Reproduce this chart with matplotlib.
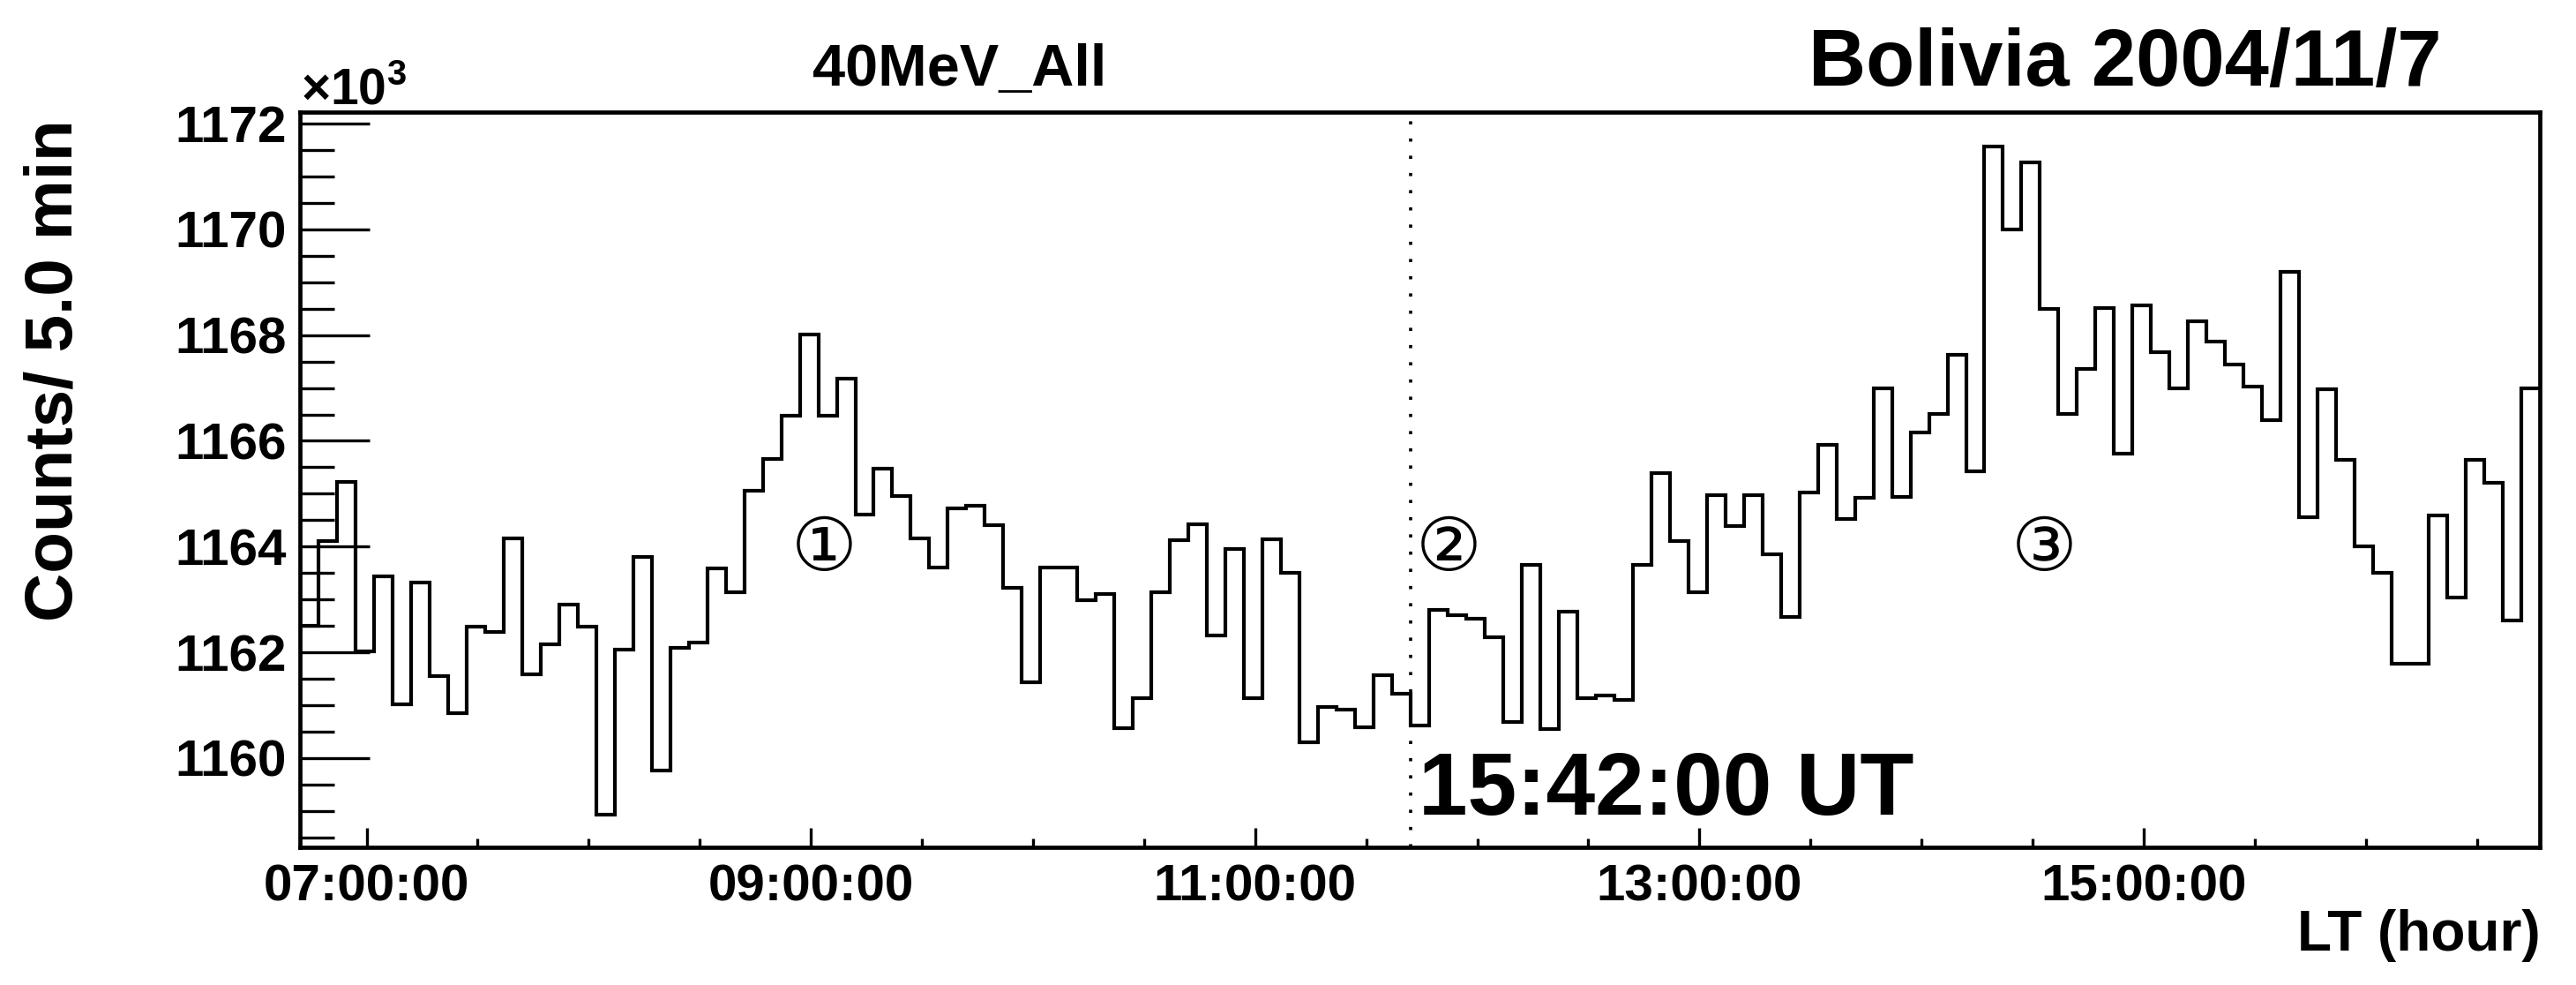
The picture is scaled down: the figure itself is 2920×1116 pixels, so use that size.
import numpy as np
import matplotlib
matplotlib.use("Agg")
import matplotlib.pyplot as plt
from matplotlib.ticker import FixedLocator, MultipleLocator, FuncFormatter

plt.rcParams['font.family'] = ['Liberation Sans', 'DejaVu Sans']
plt.rcParams['font.weight'] = 'bold'
plt.rcParams['mathtext.fontset'] = 'custom'
plt.rcParams['mathtext.rm'] = 'Liberation Sans'
plt.rcParams['mathtext.bf'] = 'Liberation Sans:bold'

# ---- data ----
title_left = "40MeV_All"
title_right = "Bolivia 2004/11/7"
y_label = "Counts/ 5.0 min"
x_label = "LT (hour)"
event_label = "15:42:00 UT"
event_time_lt = 11.7            # 11:42 LT  (= 15:42 UT)
start_time_lt = 6.7             # first bin starts 06:42 LT
bin_minutes = 5.0
major_hours = [7, 9, 11, 13, 15]
marker_labels = ["\u2460", "\u2461", "\u2462"]
marker_times = [9.06, 11.87, 14.55]
marker_level = [1163.94, 1163.94, 1163.94]

# counts per 5 min bin, in units of 10^3
counts_k = [
    1162.50, 1164.11, 1165.22, 1162.02, 1163.44, 1161.02, 1163.32, 1161.55, 1160.84, 1162.48,
    1162.39, 1164.16, 1161.59, 1162.15, 1162.90, 1162.48, 1158.92, 1162.05, 1163.81, 1159.76,
    1162.08, 1162.18, 1163.58, 1163.13, 1165.05, 1165.66, 1166.48, 1168.01, 1166.48, 1167.17,
    1164.61, 1165.47, 1164.96, 1164.16, 1163.60, 1164.72, 1164.77, 1164.40, 1163.22, 1161.43,
    1163.60, 1163.60, 1162.99, 1163.11, 1160.56, 1161.14, 1163.14, 1164.12, 1164.42, 1162.32,
    1163.96, 1161.14, 1164.14, 1163.50, 1160.30, 1160.96, 1160.91, 1160.58, 1161.57, 1161.22,
    1160.61, 1162.81, 1162.71, 1162.63, 1162.29, 1160.68, 1163.65, 1160.54, 1162.77, 1161.14,
    1161.19, 1161.10, 1163.65, 1165.39, 1164.10, 1163.13, 1164.97, 1164.38, 1164.97, 1163.86,
    1162.67, 1165.03, 1165.92, 1164.52, 1164.92, 1167.00, 1164.94, 1166.16, 1166.51, 1167.63,
    1165.43, 1171.57, 1170.00, 1171.26, 1168.50, 1166.51, 1167.36, 1168.52, 1165.75, 1168.57,
    1167.67, 1167.00, 1168.26, 1167.87, 1167.45, 1167.02, 1166.39, 1169.20, 1164.56, 1166.98,
    1165.64, 1164.00, 1163.51, 1161.78, 1161.78, 1164.59, 1163.04, 1165.64, 1165.20, 1162.60,
    1167.00,
]

# ---- figure ----
W, H = 2920, 1116
fig = plt.figure(figsize=(W / 100, H / 100), dpi=100)
L, R, T, B = 340, 2879, 127, 960
ax = fig.add_axes([L / W, 1 - B / H, (R - L) / W, (B - T) / H])

n = len(counts_k)
edges = start_time_lt + np.arange(n + 1) * bin_minutes / 60.0
ax.stairs(counts_k, edges, baseline=None, color='black', lw=3.0)

ax.set_xlim(edges[0], edges[-1])
ax.set_ylim(1158.31, 1172.22)

ax.axvline(event_time_lt, color='black', lw=2.6, linestyle=(0, (1.0, 4.4)))

# ticks
ax.xaxis.set_major_locator(FixedLocator(major_hours))
ax.xaxis.set_minor_locator(MultipleLocator(0.5))
ax.xaxis.set_major_formatter(FuncFormatter(lambda v, p: "%02d:00:00" % int(round(v))))
ax.yaxis.set_major_locator(MultipleLocator(2))
ax.yaxis.set_minor_locator(MultipleLocator(0.5))
ax.yaxis.set_major_formatter(FuncFormatter(lambda v, p: "%d" % int(round(v))))

ax.tick_params(axis='y', which='major', direction='in', length=57, width=2.4,
               labelsize=42, pad=11, right=False)
ax.tick_params(axis='y', which='minor', direction='in', length=28, width=2.4, right=False)
ax.tick_params(axis='x', which='major', direction='in', length=16, width=2.4,
               labelsize=42, pad=13, top=False)
ax.tick_params(axis='x', which='minor', direction='in', length=7, width=2.4, top=False)
for lab in ax.get_xticklabels() + ax.get_yticklabels():
    lab.set_fontweight('bold')

for s in ax.spines.values():
    s.set_linewidth(3.4)

# texts
fig.text(1088 / W, 1 - 97 / H, title_left, ha='center', va='baseline',
         fontsize=48, fontweight='bold')
fig.text(2409 / W, 1 - 97 / H, title_right, ha='center', va='baseline',
         fontsize=65, fontweight='bold')
fig.text(341 / W, 1 - 118 / H, r'$\times\mathbf{10}^{\mathbf{3}}$', ha='left', va='baseline',
         fontsize=41)
fig.text(62 / W, 1 - 420 / H, y_label, ha='center', va='center', rotation=90,
         fontsize=55, fontweight='bold')
fig.text(2880 / W, 1 - 1077 / H, x_label, ha='right', va='baseline',
         fontsize=46, fontweight='bold')
fig.text(1608 / W, 1 - 923 / H, event_label, ha='left', va='baseline',
         fontsize=72, fontweight='bold')

for lab, xt, yl in zip(marker_labels, marker_times, marker_level):
    ax.text(xt, yl, lab, ha='center', va='center', fontsize=60, fontweight='normal',
            family=['DejaVu Serif', 'DejaVu Sans', 'Noto Sans CJK JP'])

fig.savefig("out.png", dpi=100)
